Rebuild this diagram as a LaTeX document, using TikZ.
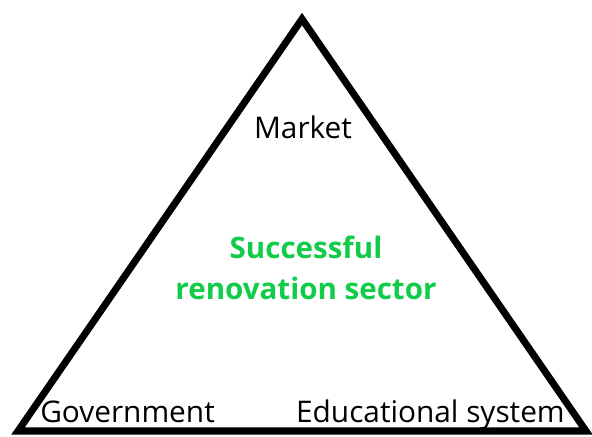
\documentclass[tikz,border=0pt]{standalone}
\usepackage{fontspec}
\setmainfont{Open Sans}
\usepackage{tikz}
\usetikzlibrary{positioning}
\definecolor{mygreen}{RGB}{16,204,72}

\begin{document}
\begin{tikzpicture}[x=0.025cm, y=-0.025cm]
    \tikzstyle{corner}=[font=\fontsize{21.2}{26}\selectfont, anchor=base, inner sep=0pt]
    \tikzstyle{goal}=[font=\fontsize{21}{29}\selectfont\bfseries, text=mygreen, align=center, inner sep=0pt]
    \useasboundingbox (0,0) rectangle (592,436);
    % the triangle
    \coordinate (top) at (302,19);
    \coordinate (bl) at (18,431);
    \coordinate (br) at (586,431);
    \draw[line width=5pt, miter limit=10] (top) -- (bl) -- (br) -- cycle;
    % labels at the corners
    \node[corner] (market) at (303,138) {Market};
    \node[corner, anchor=base west] (gov) at (40,422) {Government};
    \node[corner, anchor=base east] (edu) at (565,422) {Educational system};
    % centre text
    \node[goal] (goal) at (306,268) {Successful\\renovation sector};
\end{tikzpicture}
\end{document}
